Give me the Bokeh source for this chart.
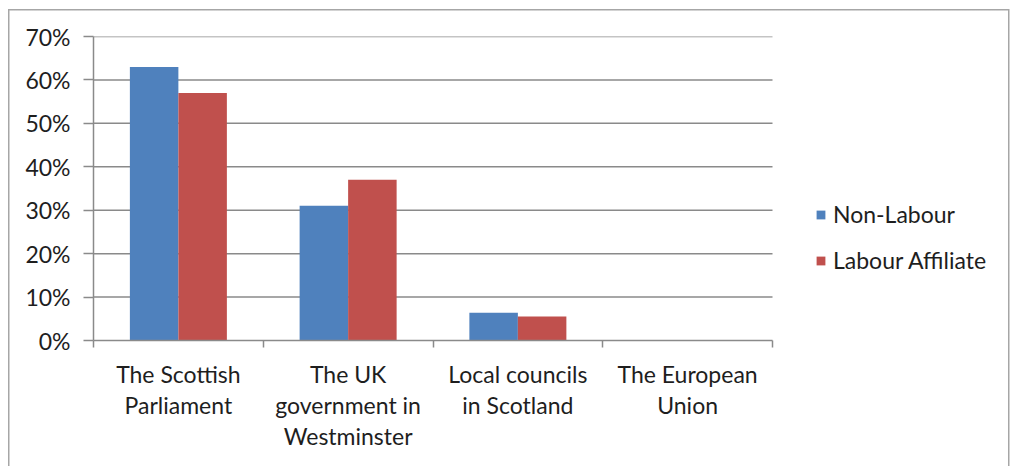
import numpy as np
from bokeh.plotting import figure
from bokeh.models import (ColumnDataSource, FixedTicker, NumeralTickFormatter, Legend,
                          LegendItem, Range1d)
from bokeh.embed import file_html
from bokeh.resources import INLINE

# ---- data ----
categories = ["The Scottish\nParliament", "The UK\ngovernment in\nWestminster",
              "Local councils\nin Scotland", "The European\nUnion"]
non_labour = [0.63, 0.31, 0.064, 0.0]
labour_affiliate = [0.57, 0.37, 0.055, 0.0]
series_names = ["Non-Labour", "Labour Affiliate"]
series_colors = ["#4F81BD", "#C0504D"]
y_ticks = [0.0, 0.1, 0.2, 0.3, 0.4, 0.5, 0.6, 0.7]

FONT = "Lato"
FS = "23px"
TEXT = "#1e1e1e"
GRID = "#8a8a8a"
BORDER = "#a6a6a6"

n = len(categories)
idx = np.arange(n)
centers = idx + 0.5
bar_w = 1.0 / 3.5  # Excel gap width 150%

# frame spans to the right so the legend fits inside it; plot area is x in [0, n]
LEFT, PLOT_RIGHT, FRAME_RIGHT = 93, 772, 1005
x_end = n * (FRAME_RIGHT - LEFT) / (PLOT_RIGHT - LEFT)

src = ColumnDataSource(dict(
    x1=centers - bar_w / 2, x2=centers + bar_w / 2,
    nl=non_labour, la=labour_affiliate))
grid_src = ColumnDataSource(dict(y=y_ticks[1:], x0=[0] * (len(y_ticks) - 1),
                                 x1=[n] * (len(y_ticks) - 1)))

p = figure(width=1018, height=466, output_backend="svg", toolbar_location=None,
           x_range=Range1d(0, x_end), y_range=Range1d(0, 0.7),
           min_border_left=LEFT, min_border_right=1018 - FRAME_RIGHT, min_border_top=36,
           min_border_bottom=126)
p.outline_line_color = None
p.border_fill_color = None
p.background_fill_color = None
p.styles = {
    "background-color": "white",
    "background-image": ", ".join([f"linear-gradient({BORDER}, {BORDER})"] * 3),
    "background-size": "1001px 1.5px, 1.5px 470px, 1.5px 470px",
    "background-position": "8px 9px, 8px 9px, 1008px 9px",
    "background-repeat": "no-repeat",
}

# horizontal gridlines limited to the plot area
p.segment(x0="x0", x1="x1", y0="y", y1="y", source=grid_src, line_color=GRID, line_width=1.5)

r1 = p.vbar(x="x1", top="nl", width=bar_w, source=src, fill_color=series_colors[0], line_color=None)
r2 = p.vbar(x="x2", top="la", width=bar_w, source=src, fill_color=series_colors[1], line_color=None)

# y axis
p.yaxis.ticker = FixedTicker(ticks=y_ticks)
p.yaxis.formatter = NumeralTickFormatter(format="0%")
p.yaxis.axis_line_color = GRID
p.yaxis.axis_line_width = 1.5
p.yaxis.major_tick_line_color = GRID
p.yaxis.major_tick_line_width = 1.5
p.yaxis.major_tick_out = 10
p.yaxis.major_tick_in = 0
p.yaxis.minor_tick_line_color = None
p.yaxis.major_label_standoff = 13
p.yaxis.major_label_text_font = FONT
p.yaxis.major_label_text_font_size = FS
p.yaxis.major_label_text_color = TEXT

# x axis: labels at centers, ticks at category boundaries
p.xaxis.bounds = (0, n)
p.xaxis.ticker = FixedTicker(ticks=list(centers), minor_ticks=list(map(float, range(n + 1))))
p.xaxis.major_label_overrides = {float(c): lab for c, lab in zip(centers, categories)}
p.xaxis.axis_line_color = GRID
p.xaxis.axis_line_width = 1.5
p.xaxis.major_tick_line_color = None
p.xaxis.minor_tick_line_color = GRID
p.xaxis.minor_tick_line_width = 1.5
p.xaxis.minor_tick_out = 7
p.xaxis.minor_tick_in = 0
p.xaxis.major_label_standoff = 12
p.xaxis.major_label_text_font = FONT
p.xaxis.major_label_text_font_size = FS
p.xaxis.major_label_text_color = TEXT
p.xaxis.major_label_text_line_height = 1.12

p.xgrid.grid_line_color = None
p.ygrid.grid_line_color = None

legend = Legend(items=[LegendItem(label=series_names[0], renderers=[r1]),
                       LegendItem(label=series_names[1], renderers=[r2])],
                location=(722, 66), orientation="vertical")
legend.glyph_width = 11
legend.glyph_height = 11
legend.label_standoff = 7
legend.spacing = 18
legend.padding = 0
legend.margin = 0
legend.border_line_color = None
legend.background_fill_alpha = 0
legend.label_text_font = FONT
legend.label_text_font_size = FS
legend.label_text_color = TEXT
p.add_layout(legend)

open("out.html", "w").write(file_html(p, INLINE))
